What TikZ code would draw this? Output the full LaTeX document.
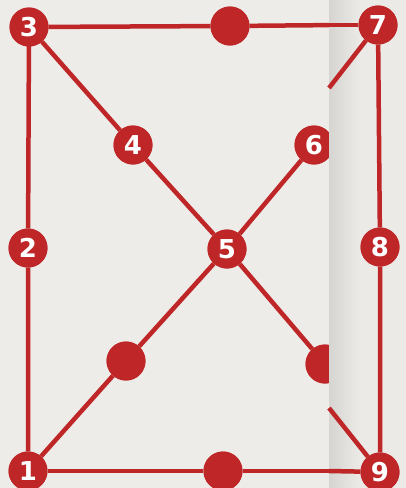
\documentclass[tikz,border=0pt]{standalone}
\usepackage{fontspec}
\newfontfamily\numfont{DejaVu Sans}
\definecolor{paper}{RGB}{238,236,232}
\definecolor{foldl}{RGB}{214,213,210}
\definecolor{foldr}{RGB}{235,234,231}
\definecolor{dotred}{RGB}{190,38,40}
\begin{document}
\begin{tikzpicture}[x=1pt,y=-1pt,
  num/.style={circle,fill=dotred,inner sep=0pt,minimum size=39pt,text=white,
    font=\numfont\bfseries\fontsize{26}{26}\selectfont},
  blank/.style={circle,fill=dotred,inner sep=0pt,minimum size=39pt},
  link/.style={draw=dotred,line width=4.5pt}]
\useasboundingbox (0,0) rectangle (406,488);
\fill[paper] (0,0) rectangle (406,488);
% left part of the page
\node[num] (n3) at (29,27) {3};
\node[blank] (dtop) at (230,26) {};
\node[num] (n4) at (133,145) {4};
\node[num] (n6) at (314,145) {6};
\node[num] (n2) at (28,248) {2};
\node[num] (n5) at (227,249) {5};
\node[blank] (dll) at (126,361) {};
\node[blank] (dlr) at (325,364) {};
\node[num] (n1) at (28,471) {1};
\node[blank] (dbot) at (223,471) {};
\coordinate (ftop) at (340,25);
\coordinate (fbot) at (340,471);
\path[link] (n3) -- (dtop) (dtop) -- (ftop);
\path[link] (n3.center) -- (n2) (n2) -- (n1);
\path[link] (n1) -- (dbot) (dbot) -- (fbot);
\path[link] (n3) -- (n4) (n4) -- (n5);
\path[link] (n5) -- (n6);
\path[link] (n5) -- (dll) (dll) -- (n1);
\path[link] (n5) -- (dlr);
% redraw nodes over the lines
\node[num] at (n3) {3};
\node[blank] at (dtop) {};
\node[num] at (n4) {4};
\node[num] at (n6) {6};
\node[num] at (n2) {2};
\node[num] at (n5) {5};
\node[blank] at (dll) {};
\node[blank] at (dlr) {};
\node[num] at (n1) {1};
\node[blank] at (dbot) {};
% folded strip of the page
\shade[left color=foldl,right color=foldr] (329,0) rectangle (360,488);
\fill[foldr] (360,0) rectangle (406,488);
\coordinate (s1) at (329,25);
\coordinate (s2) at (329,471);
\coordinate (f1) at (329,88);
\coordinate (f2) at (329,408);
\node[num] (n7) at (378,25) {7};
\node[num] (n8) at (380,247) {8};
\node[num] (n9) at (380,472) {9};
\path[link] (s1) -- (n7);
\path[link] (s2) -- (n9);
\path[link] (f1) -- (n7);
\path[link] (f2) -- (n9);
\path[link] (n7) -- (n8) (n8) -- (n9);
\node[num] at (n7) {7};
\node[num] at (n8) {8};
\node[num] at (n9) {9};
\end{tikzpicture}
\end{document}
